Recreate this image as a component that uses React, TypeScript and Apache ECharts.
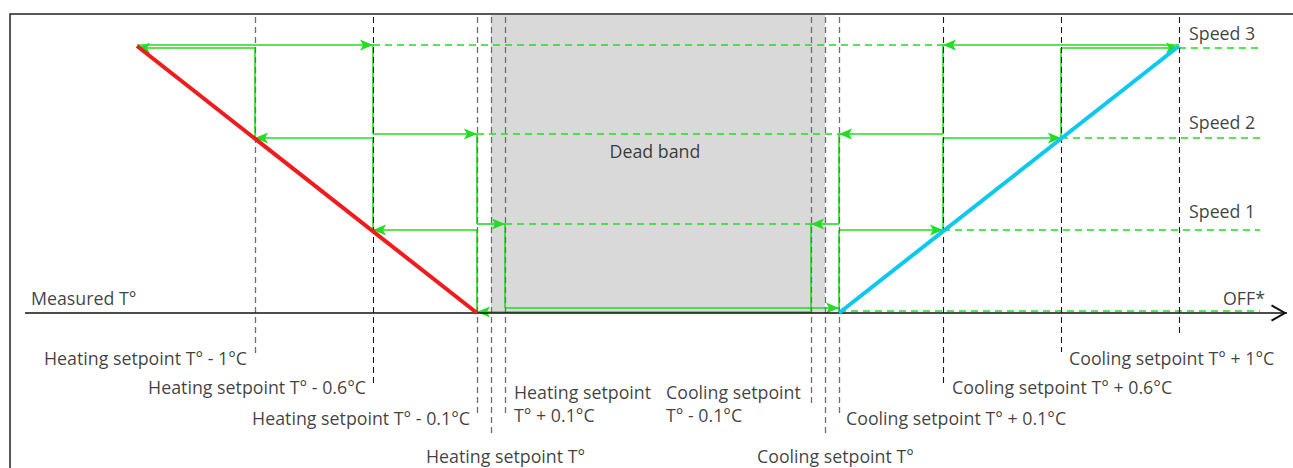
import React, { useEffect, useRef } from "react";
import * as echarts from "echarts";

// ---- Data (schematic diagram units: x = temperature position, y = fan speed level) ----
const thresholdLabels = [
  "Heating setpoint T° - 1°C",
  "Heating setpoint T° - 0.6°C",
  "Heating setpoint T° - 0.1°C",
  "Heating setpoint T°",
  "Heating setpoint\nT° + 0.1°C",
  "Cooling setpoint\nT° - 0.1°C",
  "Cooling setpoint T°",
  "Cooling setpoint T° + 0.1°C",
  "Cooling setpoint T° + 0.6°C",
  "Cooling setpoint T° + 1°C",
];
const thresholdPos = [23.0, 34.8, 45.2, 46.6, 48.0, 78.6, 80.0, 81.4, 91.8, 103.6];
const speedLabels = ["Speed 1", "Speed 2", "Speed 3"];
const speedOnLevel = [8.3, 17.5, 26.5];
const speedOffLevel = [8.9, 17.9, 26.8];
const heatingOn = [45.2, 34.8, 23.0];
const heatingOff = [48.0, 45.2, 34.8];
const coolingOn = [81.4, 91.8, 103.6];
const coolingOff = [78.6, 81.4, 91.8];
const heatingRamp = [
  [11.2, 26.7],
  [45.2, 0],
];
const coolingRamp = [
  [81.4, 0],
  [115.4, 26.7],
];
const deadBand = [46.6, 80.0];
const heatingReturnLevel = 0.5;
const coolingReturnLevel = 0.1;
const offLevel = 0.2;
const axisRange = [0, 126.2];
const speedLineEnd = 123.5;

// ---- Layout (not data) ----
const guideBottom = [-4.0, -7.2, -10.4, -12.0, -10.4, -9.4, -12.0, -10.0, -7.2, -3.9];
const guideDark = [false, true, false, false, false, false, false, false, true, true];
const guideTop = 29.6;
const labelLayout = [
  { x: 22.2, y: -4.5, pos: "left" },
  { x: 34.1, y: -7.4, pos: "left" },
  { x: 44.5, y: -10.5, pos: "left" },
  { x: 40.1, y: -14.3, pos: "right" },
  { x: 48.9, y: -9.05, pos: "right" },
  { x: 64.1, y: -9.05, pos: "right" },
  { x: 73.2, y: -14.3, pos: "right" },
  { x: 82.1, y: -10.5, pos: "right" },
  { x: 92.7, y: -7.4, pos: "right" },
  { x: 104.4, y: -4.5, pos: "right" },
];
const speedLabelLayout = [
  { x: 116.4, y: 10.2 },
  { x: 116.4, y: 19.1 },
  { x: 116.4, y: 28.0 },
];

const GREEN = "#22dd22";
const FONT = "'Open Sans', sans-serif";
const FS = 17.8;
const TXT = "#0d0d0d";
const ARROW_PATH = "path://M5.5,0 L11,13 L5.5,10 L0,13 Z";

type Seg = any;
const seg = (x1: number, y1: number, x2: number, y2: number, arrow: boolean): Seg => [
  { coord: [x1, y1], symbol: "none", symbolSize: 1 },
  arrow
    ? { coord: [x2, y2], symbol: ARROW_PATH, symbolSize: [11, 13], symbolOffset: [0, 6.5] }
    : { coord: [x2, y2], symbol: "none", symbolSize: 1 },
];

function buildSolid() {
  const s: Seg[] = [];
  // heating ON (temperature falling)
  s.push(seg(heatingOn[0], 0, heatingOn[0], speedOnLevel[0], false));
  for (let k = 0; k < 3; k++) {
    const xEnd = k < 2 ? heatingOn[k + 1] : heatingRamp[0][0];
    s.push(seg(heatingOn[k], speedOnLevel[k], xEnd, speedOnLevel[k], true));
    if (k < 2) s.push(seg(xEnd, speedOnLevel[k], xEnd, speedOnLevel[k + 1], false));
  }
  // heating OFF (temperature rising)
  let x = heatingRamp[0][0];
  for (let k = 2; k >= 0; k--) {
    s.push(seg(x, speedOffLevel[k], heatingOff[k], speedOffLevel[k], true));
    const yNext = k > 0 ? speedOffLevel[k - 1] : heatingReturnLevel;
    s.push(seg(heatingOff[k], speedOffLevel[k], heatingOff[k], yNext, false));
    x = heatingOff[k];
  }
  s.push(seg(x, heatingReturnLevel, coolingOn[0], heatingReturnLevel, true));
  // cooling ON (temperature rising)
  s.push(seg(coolingOn[0], 0, coolingOn[0], speedOnLevel[0], false));
  for (let k = 0; k < 3; k++) {
    const xEnd = k < 2 ? coolingOn[k + 1] : coolingRamp[1][0];
    s.push(seg(coolingOn[k], speedOnLevel[k], xEnd, speedOnLevel[k], true));
    if (k < 2) s.push(seg(xEnd, speedOnLevel[k], xEnd, speedOnLevel[k + 1], false));
  }
  // cooling OFF (temperature falling)
  x = coolingRamp[1][0];
  for (let k = 2; k >= 0; k--) {
    s.push(seg(x, speedOffLevel[k], coolingOff[k], speedOffLevel[k], true));
    const yNext = k > 0 ? speedOffLevel[k - 1] : coolingReturnLevel;
    s.push(seg(coolingOff[k], speedOffLevel[k], coolingOff[k], yNext, false));
    x = coolingOff[k];
  }
  s.push(seg(x, coolingReturnLevel, heatingOn[0], coolingReturnLevel, true));
  return s;
}

function buildDashed() {
  const s: Seg[] = [];
  for (let k = 0; k < 3; k++) {
    s.push(seg(heatingOff[k], speedOffLevel[k], coolingOff[k], speedOffLevel[k], false));
    const xs = k < 2 ? coolingOn[k + 1] : coolingRamp[1][0];
    s.push(seg(xs, speedOnLevel[k], speedLineEnd, speedOnLevel[k], false));
  }
  s.push(seg(coolingOn[0], offLevel, speedLineEnd, offLevel, false));
  return s;
}

function buildGuides(dark: boolean) {
  const s: Seg[] = [];
  thresholdPos.forEach((x, i) => {
    if (guideDark[i] === dark) s.push(seg(x, guideTop, x, guideBottom[i], false));
  });
  if (dark) s.push(seg(coolingRamp[1][0], guideTop, coolingRamp[1][0], -2.4, false));
  return s;
}

const baseMark = {
  silent: true,
  symbol: ["none", "none"],
  label: { show: false },
  emphasis: { disabled: true },
  animation: false,
};

export default function App() {
  const ref = useRef<HTMLDivElement>(null);
  useEffect(() => {
    if (!ref.current) return;
    const chart = echarts.init(ref.current, undefined, { renderer: "svg" });
    const textStyle = { fontFamily: FONT, fontSize: FS, color: TXT };
    const labelData: any[] = thresholdLabels.map((t, i) => ({
      value: [labelLayout[i].x, labelLayout[i].y],
      label: {
        show: true,
        formatter: t,
        position: labelLayout[i].pos,
        distance: 0,
        align: labelLayout[i].pos === "left" ? "right" : "left",
        lineHeight: 23,
        ...textStyle,
      },
    }));
    speedLabels.forEach((t, i) => {
      labelData.push({
        value: [speedLabelLayout[i].x, speedLabelLayout[i].y],
        label: { show: true, formatter: t, position: "right", distance: 0, ...textStyle },
      });
    });
    labelData.push({
      value: [0.6, 1.5],
      label: { show: true, formatter: "Measured T°", position: "right", distance: 0, ...textStyle },
    });
    labelData.push({
      value: [124.0, 1.5],
      label: { show: true, formatter: "OFF*", position: "left", distance: 0, ...textStyle },
    });
    labelData.push({
      value: [63.0, 16.2],
      label: { show: true, formatter: "Dead band", position: "inside", ...textStyle },
    });

    chart.setOption({
      animation: false,
      grid: {
        show: true,
        left: 10,
        top: 14,
        width: 1315,
        height: 499,
        outerBoundsMode: "none",
        containLabel: false,
        borderColor: "#222",
        borderWidth: 1.5,
        backgroundColor: "transparent",
      },
      xAxis: { type: "value", min: -1.5, max: 130, show: false },
      yAxis: { type: "value", min: -20, max: 29.9, show: false },
      series: [
        {
          type: "line",
          data: [],
          markArea: {
            silent: true,
            itemStyle: { color: "#d9d9d9" },
            label: { show: false },
            data: [[{ coord: [deadBand[0], 29.8] }, { coord: [deadBand[1], 0] }]],
          },
        },
        {
          type: "line",
          data: [],
          color: GREEN,
          markLine: {
            ...baseMark,
            lineStyle: { color: GREEN, width: 1.5, type: [7, 5] },
            data: buildDashed(),
          },
        },
        {
          type: "line",
          data: [],
          color: GREEN,
          markLine: {
            ...baseMark,
            lineStyle: { color: GREEN, width: 1.6, type: "solid" },
            data: buildSolid(),
          },
        },
        {
          type: "line",
          data: [],
          color: "#6e6e6e",
          markLine: {
            ...baseMark,
            lineStyle: { color: "#6e6e6e", width: 1.3, type: [6, 4] },
            data: buildGuides(false),
          },
        },
        {
          type: "line",
          data: [],
          color: "#1a1a1a",
          markLine: {
            ...baseMark,
            lineStyle: { color: "#1a1a1a", width: 1.1, type: [6, 4] },
            data: buildGuides(true),
          },
        },
        {
          type: "line",
          data: heatingRamp,
          showSymbol: false,
          symbol: "none",
          lineStyle: { color: "#ee1c1c", width: 4 },
          z: 5,
        },
        {
          type: "line",
          data: coolingRamp,
          showSymbol: false,
          symbol: "none",
          lineStyle: { color: "#0bc8ee", width: 4 },
          z: 5,
        },
        {
          type: "line",
          data: [],
          color: "#111",
          z: 4,
          markLine: {
            ...baseMark,
            lineStyle: { color: "#111", width: 1.6, type: "solid" },
            data: [
              [
                { coord: [axisRange[0], 0], symbol: "none", symbolSize: 1 },
                {
                  coord: [axisRange[1], 0],
                  symbol: "path://M8.5,0 L17,15 L15.3,16 L8.5,4 L1.7,16 L0,15 Z",
                  symbolSize: [17, 16],
                  symbolOffset: [0, 8],
                },
              ],
            ],
          },
        },
        {
          type: "scatter",
          data: labelData,
          symbolSize: 0,
          itemStyle: { color: "transparent" },
          silent: true,
          z: 10,
        },
      ],
    });
    return () => chart.dispose();
  }, []);
  return (
    <div
      ref={ref}
      style={{ position: "absolute", left: 0, top: 0, width: 1293, height: 468, background: "#fff" }}
    />
  );
}
